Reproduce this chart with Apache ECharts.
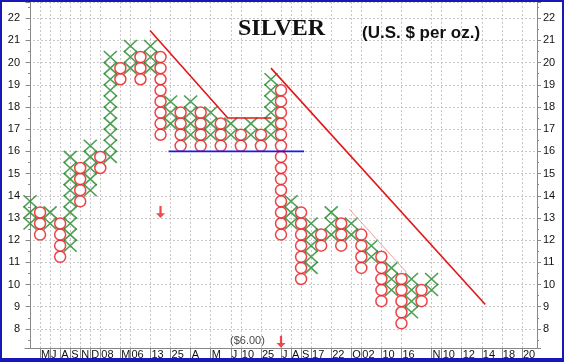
<!DOCTYPE html>
<html><head><meta charset="utf-8">
<script src="https://cdn.jsdelivr.net/npm/echarts@6/dist/echarts.min.js"></script>
<style>
html,body{margin:0;padding:0;background:#fff}
#wrap{position:relative;width:564px;height:362px}
#c{width:564px;height:362px}
#frame{position:absolute;left:0;top:0;width:564px;height:362px;box-sizing:border-box;border:2px solid #1818b8;border-bottom-width:4px;pointer-events:none}
</style></head>
<body><div id="wrap"><div id="c"></div><div id="frame"></div></div>
<script>
// Point & figure columns (box size 0.5): type, lowest box bottom, top of highest box
const colTypes = ['X','O','X','O','X','O','X','O','X','O','X','O','X','O','X','O','X','O','X','O','X','O','X','O','X','O','X','O','X','O','X','O','X','O','X','O','X','O','X','O','X'];
const colLows  = [12.5,12.0,12.5,11.0,11.5,13.5,14.0,15.0,15.5,19.0,19.5,19.0,19.5,16.5,17.0,16.0,16.5,16.0,16.5,16.0,16.5,16.0,16.5,16.0,16.5,12.0,12.5,10.0,10.5,11.5,12.0,11.5,12.0,10.5,11.0,9.0,9.5,8.0,8.5,9.0,9.5];
const colHighs = [14.0,13.5,13.5,13.0,16.0,15.5,16.5,16.0,20.5,20.0,21.0,20.5,21.0,20.5,18.5,18.0,18.5,18.0,18.0,17.5,17.5,17.0,17.5,17.0,19.5,19.0,14.0,13.5,13.0,12.5,13.5,13.0,13.0,12.5,12.0,11.5,11.0,10.5,10.5,10.0,10.5];
const boxSize = 0.5;
// x axis labels, one per column (51 columns)
const xLabels = ['','M','J','A','S','N','D','08','','M','06','','13','','25','','A','','M','','J','10','','25','','J','A','S','17','','22','','O','02','','10','','16','','','N','10','','12','','14','','18','','20',''];
// trend lines [column, price]
const downTrend1 = [[11.95,21.45],[19.7,17.5],[24.05,17.5]];
const downTrend2 = [[24.0,19.75],[45.35,9.1]];
const minorTrend = [[31.8,13.4],[37.5,10.55]];
const supportLine = [[13.8,16.0],[27.3,16.0]];
// annotations
const arrows = [[13,13.27],[25,7.42]];
const priceNote = [[21.66,7.47,'($6.00)']];

const xPts = [], oPts = [];
colTypes.forEach((t,i)=>{
  for(let v=colLows[i]; v<colHighs[i]-1e-9; v+=boxSize){
    (t==='X'?xPts:oPts).push([i, v+boxSize/2]);
  }
});
const labelShown = (i)=> xLabels[i] !== '';
const intLabel = v => Math.abs(v-Math.round(v))<1e-6 ? String(Math.round(v)) : '';

const chart = echarts.init(document.getElementById('c'), null, {renderer:'canvas'});
chart.setOption({
  animation:false,
  backgroundColor:'#fff',
  title:[
    {text:'SILVER', left:233, top:12, textStyle:{fontFamily:'Liberation Serif, Times New Roman, serif', fontWeight:'bold', fontSize:24, color:'#111'}},
    {text:'(U.S. $ per oz.)', left:357, top:20, textStyle:{fontFamily:'Liberation Sans, Arial, sans-serif', fontWeight:'bold', fontSize:17, color:'#111'}}
  ],
  grid:{left:25, right:27, top:2, bottom:14},
  xAxis:[
    {type:'category', data:xLabels, boundaryGap:true, position:'bottom',
     axisLine:{show:true, lineStyle:{color:'#888', width:1}},
     axisTick:{show:true, alignWithLabel:true, interval:(i)=>labelShown(i), length:10, lineStyle:{color:'#888'}},
     axisLabel:{show:true, interval:(i)=>labelShown(i), align:'left', margin:1, padding:[0,0,0,1], fontSize:11, color:'#111', fontFamily:'Liberation Sans, Arial, sans-serif'},
     splitLine:{show:true, alignWithLabel:true, interval:(i)=>labelShown(i), lineStyle:{color:'#c8c8c8', type:[2,2], width:1}}
    },
    {type:'value', min:-0.5, max:50.5, show:false}
  ],
  yAxis:[
    {type:'value', min:7.14, max:22.73, splitNumber:16, position:'left',
     axisLine:{show:true, lineStyle:{color:'#888'}},
     axisTick:{show:true, length:4, lineStyle:{color:'#888'}},
     minorTick:{show:true, splitNumber:2, length:2, lineStyle:{color:'#888'}},
     axisLabel:{formatter:intLabel, margin:5, fontSize:11, color:'#111', fontFamily:'Liberation Sans, Arial, sans-serif'},
     splitLine:{show:true, lineStyle:{color:'#c8c8c8', type:[2,2]}}
    },
    {type:'value', min:7.14, max:22.73, splitNumber:16, position:'right',
     axisLine:{show:true, lineStyle:{color:'#888'}},
     axisTick:{show:true, length:4, lineStyle:{color:'#888'}},
     minorTick:{show:true, splitNumber:2, length:2, lineStyle:{color:'#888'}},
     axisLabel:{formatter:intLabel, margin:6, fontSize:11, color:'#111', fontFamily:'Liberation Sans, Arial, sans-serif'},
     splitLine:{show:false}
    }
  ],
  series:[
    {type:'scatter', xAxisIndex:1, yAxisIndex:0, data:xPts, symbol:'path://M0,0L10,10M10,0L0,10', symbolSize:[13,12],
     itemStyle:{color:'none', borderColor:'#23882a', borderWidth:1.6}, z:3},
    {type:'scatter', xAxisIndex:1, yAxisIndex:0, data:oPts, symbol:'circle', symbolSize:11,
     itemStyle:{color:'#fff', borderColor:'#e8141c', borderWidth:1.5}, z:3},
    {type:'line', xAxisIndex:1, yAxisIndex:0, data:downTrend1, symbol:'none', lineStyle:{color:'#e01818', width:1.6}, z:4},
    {type:'line', xAxisIndex:1, yAxisIndex:0, data:downTrend2, symbol:'none', lineStyle:{color:'#e01818', width:1.6}, z:4},
    {type:'line', xAxisIndex:1, yAxisIndex:0, data:minorTrend, symbol:'none', lineStyle:{color:'#eaa0a0', width:1}, z:4},
    {type:'line', xAxisIndex:1, yAxisIndex:0, data:supportLine, symbol:'none', lineStyle:{color:'#1a1ae6', width:1.6}, z:4},
    {type:'scatter', xAxisIndex:1, yAxisIndex:0, data:arrows, symbol:'path://M3,0L5,0L5,6L8,6L4,10L0,6L3,6Z', symbolSize:[9,12],
     itemStyle:{color:'#ee1c1c'}, z:5},
    {type:'scatter', xAxisIndex:1, yAxisIndex:0, data:priceNote, symbolSize:0,
     label:{show:true, position:'inside', formatter:(p)=>p.data[2], fontSize:11, color:'#111', fontFamily:'Liberation Sans, Arial, sans-serif'}, z:5}
  ]
});
</script>
</body></html>
